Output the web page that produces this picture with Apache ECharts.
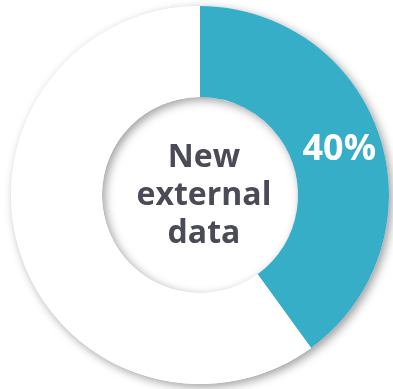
<!DOCTYPE html>
<html>
<head>
<meta charset="utf-8">
<script src="https://cdn.jsdelivr.net/npm/echarts@6/dist/echarts.min.js"></script>
<style>
html,body{margin:0;padding:0;background:#fff;}
#c{width:393px;height:389px;}
</style>
</head>
<body>
<div id="c"></div>
<script>
var categories = ['New external data', 'Other'];
var values = [40, 60];
var centerText = 'New\nexternal\ndata';

var colors = ['#37aec8', '#ffffff'];
var total = values.reduce(function(a, b){ return a + b; }, 0);

var chart = echarts.init(document.getElementById('c'), null, {renderer: 'canvas'});
chart.setOption({
  animation: false,
  backgroundColor: '#ffffff',
  title: {
    text: centerText,
    left: 199,
    top: 191,
    textAlign: 'center',
    textVerticalAlign: 'middle',
    textStyle: {
      fontFamily: 'Open Sans',
      fontWeight: 'bold',
      fontSize: 32,
      lineHeight: 38,
      color: '#4a4b57'
    }
  },
  series: [
    {
      type: 'pie',
      silent: true,
      center: [200, 195],
      radius: [98, 189],
      label: {show: false},
      itemStyle: {
        color: '#ffffff',
        shadowColor: 'rgba(0,0,0,0.38)',
        shadowBlur: 10,
        shadowOffsetX: 3,
        shadowOffsetY: 3
      },
      data: [{value: total, name: 'ring'}]
    },
    {
      type: 'pie',
      center: [200, 195],
      radius: [98, 189],
      startAngle: 90,
      clockwise: true,
      label: {show: false},
      labelLine: {show: false},
      data: categories.map(function(c, i){
        return {
          value: values[i],
          name: c,
          itemStyle: {color: colors[i]},
          label: i === 0 ? {
            show: true,
            position: 'inside',
            formatter: '{c}%',
            color: '#ffffff',
            fontFamily: 'Open Sans',
            fontWeight: 'bold',
            fontSize: 36
          } : {show: false}
        };
      })
    }
  ]
});
</script>
</body>
</html>
